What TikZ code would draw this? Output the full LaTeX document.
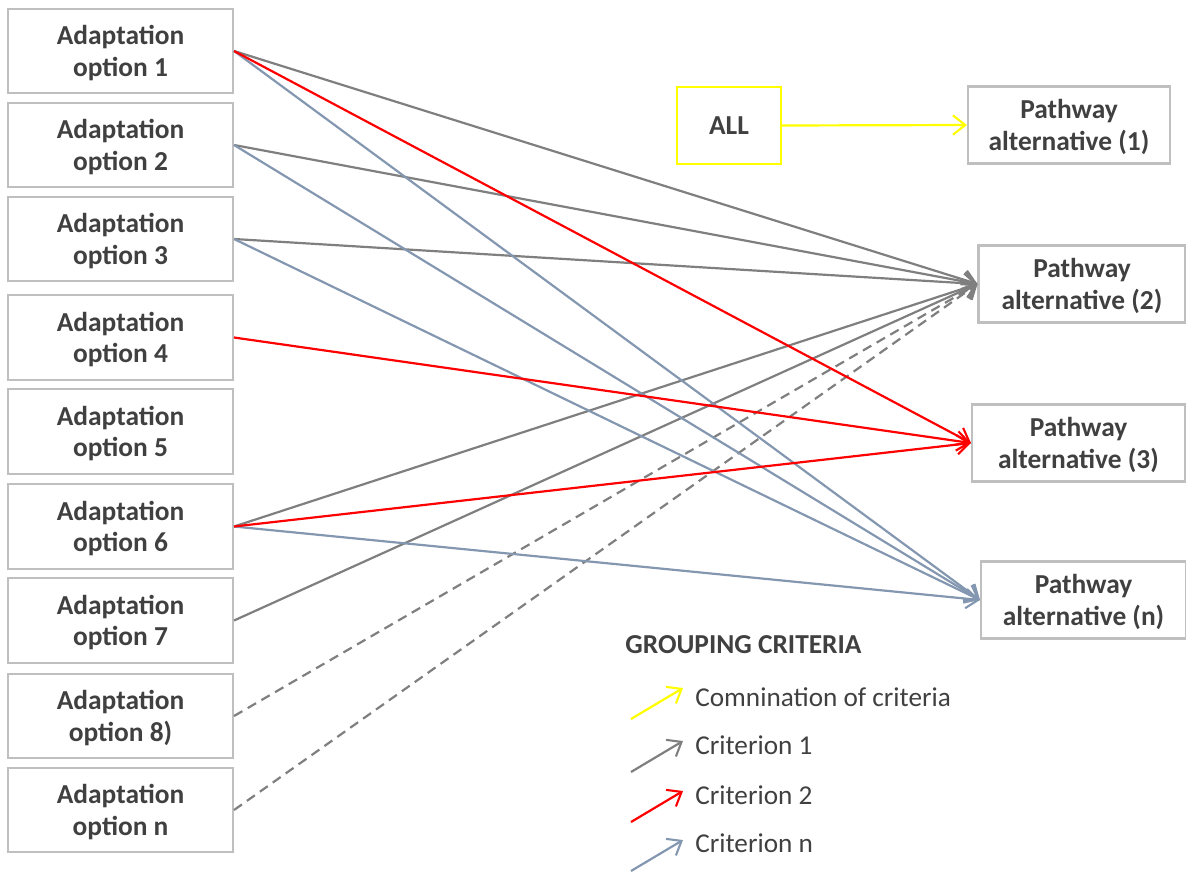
\documentclass[tikz,border=0pt]{standalone}
\usepackage{fontspec}
\setmainfont{Carlito}
\usepackage{tikz}
\usetikzlibrary{arrows.meta, positioning}
\definecolor{boxgray}{HTML}{BFBFBF}
\definecolor{txtgray}{HTML}{404040}
\definecolor{critone}{HTML}{7F7F7F}
\definecolor{crittwo}{HTML}{FF0000}
\definecolor{critn}{HTML}{8497B0}
\definecolor{critall}{HTML}{FFFF00}
\tikzset{
  optbox/.style={draw=boxgray, line width=1.2pt, minimum width=4.5cm, minimum height=1.69cm,
    align=center, text=txtgray, font=\fontsize{15.6}{18}\selectfont\bfseries, inner sep=0pt,
    text depth=0pt},
  pathbox/.style={optbox, minimum height=1.54cm},
  tip/.style={-{Straight Barb[length=7pt,width=11pt,line width=1.2pt]}},
  linkone/.style={tip, draw=critone, line width=1.25pt},
  linktwo/.style={tip, draw=crittwo, line width=1.25pt},
  linkn/.style={tip, draw=critn, line width=1.25pt},
  linkall/.style={tip, draw=critall, line width=1.25pt},
  dashline/.style={dash pattern=on 5.5pt off 3.5pt},
  legtext/.style={anchor=west, text=txtgray, font=\fontsize{15.5}{18}\selectfont, inner sep=0pt}
}
\begin{document}
\begin{tikzpicture}[x=0.02cm, y=-0.02cm]
  \useasboundingbox (0,0) rectangle (1186,872);
  % adaptation options
  \node[optbox] (opt1) at (120.5,51) {Adaptation\\option 1};
  \node[optbox] (opt2) at (120.5,145) {Adaptation\\option 2};
  \node[optbox] (opt3) at (120.5,239) {Adaptation\\option 3};
  \node[optbox] (opt4) at (120.5,337.5) {Adaptation\\option 4};
  \node[optbox] (opt5) at (120.5,431.5) {Adaptation\\option 5};
  \node[optbox] (opt6) at (120.5,526.5) {Adaptation\\option 6};
  \node[optbox] (opt7) at (120.5,620.5) {Adaptation\\option 7};
  \node[optbox] (opt8) at (120.5,716) {Adaptation\\option 8)};
  \node[optbox] (optn) at (120.5,810) {Adaptation\\option n};
  % pathways
  \node[optbox, draw=critall, minimum width=2.08cm, minimum height=1.54cm] (all) at (729,125.5) {ALL};
  \node[pathbox, minimum width=4.04cm] (path1) at (1069,125) {Pathway\\alternative (1)};
  \node[pathbox, minimum width=4.14cm] (path2) at (1082,284) {Pathway\\alternative (2)};
  \node[pathbox, minimum width=4.26cm] (path3) at (1078.5,443) {Pathway\\alternative (3)};
  \node[pathbox, minimum width=4.1cm] (pathn) at (1083.5,600) {Pathway\\alternative (n)};
  % criterion 1
  \draw[linkone] (opt1.east) -- (path2.west);
  \draw[linkone] (opt2.east) -- (path2.west);
  \draw[linkone] (opt3.east) -- (path2.west);
  \draw[linkone] (opt6.east) -- (path2.west);
  \draw[linkone] (opt7.east) -- (path2.west);
  \draw[linkone, dashline] (opt8.east) -- (path2.west);
  \draw[linkone, dashline] (optn.east) -- (path2.west);
  % criterion n
  \draw[linkn] (opt1.east) -- (pathn.west);
  \draw[linkn] (opt2.east) -- (pathn.west);
  \draw[linkn] (opt3.east) -- (pathn.west);
  \draw[linkn] (opt6.east) -- (pathn.west);
  % criterion 2
  \draw[linktwo] (opt1.east) -- (path3.west);
  \draw[linktwo] (opt4.east) -- (path3.west);
  \draw[linktwo] (opt6.east) -- (path3.west);
  % all criteria
  \draw[linkall] (all.east) -- (path1.west);
  % legend
  \node[legtext, font=\fontsize{15.6}{18}\selectfont\bfseries] (legtitle) at (625,645) {GROUPING CRITERIA};
  \coordinate (la0) at (631,719); \coordinate (lb0) at (683,688);
  \coordinate (la1) at (631,772); \coordinate (lb1) at (683,741);
  \coordinate (la2) at (631,822); \coordinate (lb2) at (683,791);
  \coordinate (la3) at (631,871); \coordinate (lb3) at (683,840);
  \draw[linkall] (la0) -- (lb0);
  \draw[linkone] (la1) -- (lb1);
  \draw[linktwo] (la2) -- (lb2);
  \draw[linkn] (la3) -- (lb3);
  \node[legtext] (leg0) at (695,697) {Comnination of criteria};
  \node[legtext] (leg1) at (695,745) {Criterion 1};
  \node[legtext] (leg2) at (695,795) {Criterion 2};
  \node[legtext] (leg3) at (695,843) {Criterion n};
\end{tikzpicture}
\end{document}
